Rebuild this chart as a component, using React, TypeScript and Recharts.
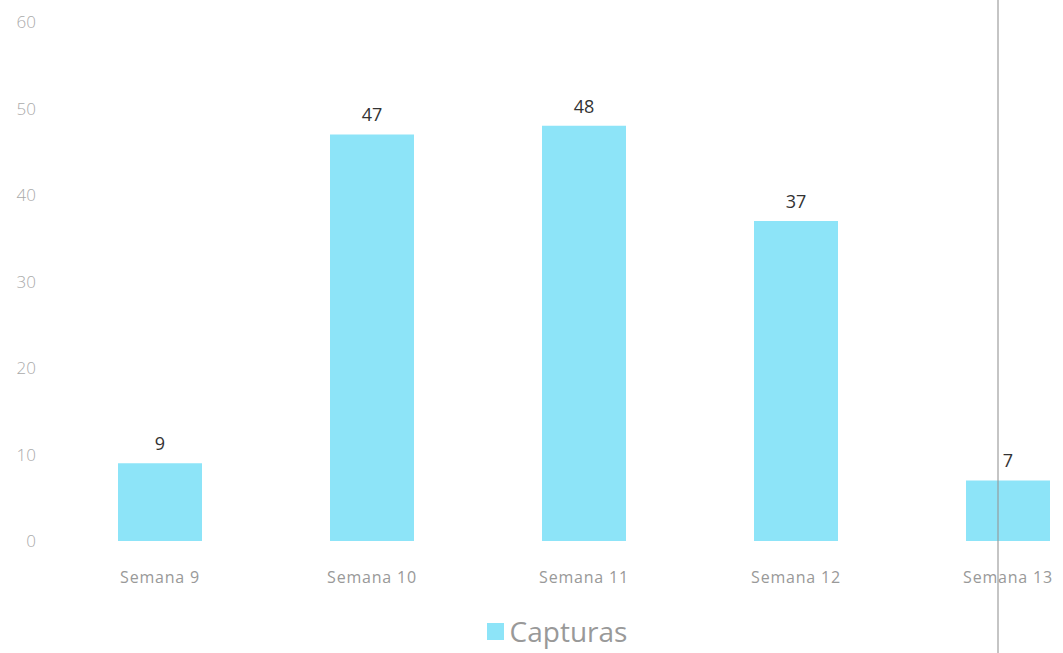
import React from "react";
import { BarChart, Bar, XAxis, YAxis, Legend, LabelList } from "recharts";

const categories = ["Semana 9", "Semana 10", "Semana 11", "Semana 12", "Semana 13"];
const capturas = [9, 47, 48, 37, 7];
const yTicks = [0, 10, 20, 30, 40, 50, 60];

const data = categories.map((c, i) => ({ name: c, Capturas: capturas[i] }));

const BAR_COLOR = "#8DE4F8";

const LegendContent = () => (
  <div
    style={{
      display: "flex",
      justifyContent: "center",
      alignItems: "center",
      height: 48,
      paddingTop: 12,
      boxSizing: "border-box",
      fontFamily: "'Open Sans', sans-serif",
    }}
  >
    <span style={{ display: "inline-block", width: 17, height: 17, background: BAR_COLOR, marginRight: 6 }} />
    <span style={{ fontSize: 28, color: "#999", lineHeight: 1.1 }}>Capturas</span>
  </div>
);

export default function App() {
  return (
    <div
      style={{
        position: "fixed",
        left: 0,
        top: 0,
        width: 1063,
        height: 653,
        overflow: "hidden",
        background: "#fff",
      }}
    >
      <BarChart
        width={1120}
        height={653}
        data={data}
        margin={{ top: 22, right: 6, bottom: 4, left: 0 }}
        barCategoryGap="30%"
      >
        <YAxis
          domain={[0, 60]}
          ticks={yTicks}
          width={54}
          axisLine={false}
          tickLine={false}
          tickMargin={12}
          tick={{ fill: "#aaa", fontSize: 17, fontFamily: "'Open Sans', sans-serif", fontWeight: 300 }}
        />
        <XAxis
          dataKey="name"
          height={60}
          axisLine={false}
          tickLine={false}
          tickMargin={25}
          tick={{ fill: "#999", fontSize: 16, fontFamily: "'Open Sans', sans-serif", letterSpacing: 0.8 }}
        />
        <Legend verticalAlign="bottom" height={48} content={<LegendContent />} />
        <Bar dataKey="Capturas" fill={BAR_COLOR} barSize={84} isAnimationActive={false}>
          <LabelList
            dataKey="Capturas"
            position="top"
            offset={13}
            style={{ fill: "#333", fontSize: 18, fontFamily: "'Open Sans', sans-serif" }}
          />
        </Bar>
      </BarChart>
      <div
        style={{
          position: "absolute",
          left: 997,
          top: 0,
          width: 2,
          height: 653,
          background: "rgba(150,150,150,0.55)",
        }}
      />
    </div>
  );
}
